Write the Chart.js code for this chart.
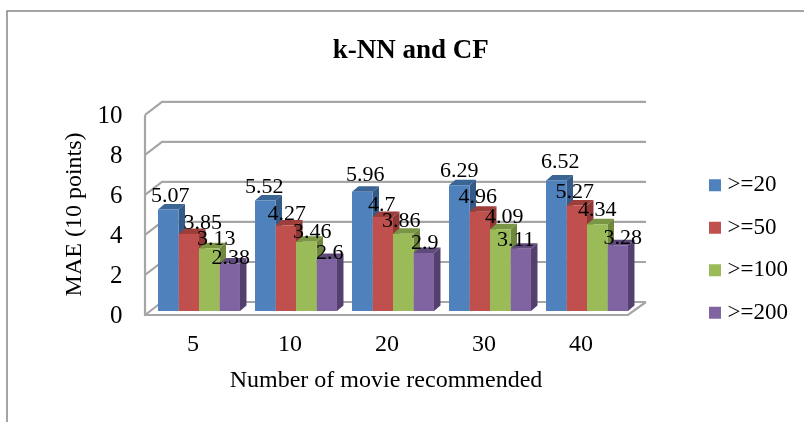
<!DOCTYPE html>
<html>
<head>
<meta charset="utf-8">
<title>k-NN and CF</title>
<script src="https://cdn.jsdelivr.net/npm/chart.js@4"></script>
<style>
  html, body { margin: 0; background: #fff; }
  canvas { display: block; }
</style>
</head>
<body>
<canvas id="grafico" width="804" height="422"></canvas>
<script>
const categorias = ['5', '10', '20', '30', '40'];
const nomesSeries = ['>=20', '>=50', '>=100', '>=200'];
const serie20 = [5.07, 5.52, 5.96, 6.29, 6.52];
const serie50 = [3.85, 4.27, 4.7, 4.96, 5.27];
const serie100 = [3.13, 3.46, 3.86, 4.09, 4.34];
const serie200 = [2.38, 2.6, 2.9, 3.11, 3.28];

const coresFrente = ['#4F81BD', '#C0504D', '#9BBB59', '#8064A2'];
const coresTopo = ['#3A6595', '#9E3E3B', '#7A9644', '#5F4A7C'];
const coresLado = ['#345A87', '#8F3835', '#6F883D', '#54406E'];
const fonte = '"Liberation Serif", serif';
const corGrade = '#A6A6A6';

// profundidade do efeito 3D
const fundoX = 6.5, fundoY = 5.5;

function poligono(ctx, cor, pontos) {
    ctx.fillStyle = cor;
    ctx.beginPath();
    pontos.forEach((p, i) => i ? ctx.lineTo(p[0], p[1]) : ctx.moveTo(p[0], p[1]));
    ctx.closePath();
    ctx.fill();
}

// desloca o titulo de um eixo sem mexer na escala
function deslocarTitulo(chart, escala, dx, dy) {
    const original = escala.drawTitle;
    escala.drawTitle = function () {
        chart.ctx.save();
        chart.ctx.translate(dx, dy);
        original.call(this);
        chart.ctx.restore();
    };
}

// 1. Paredes e chao, desenhados a partir das escalas
const paredes = {
    id: 'paredes',
    beforeDatasetsDraw(chart) {
        const ctx = chart.ctx;
        const y = chart.scales.y;
        const esq = chart.chartArea.left - 5.5, dir = chart.chartArea.right + 10.5;
        ctx.save();
        // moldura externa
        ctx.strokeStyle = '#868686';
        ctx.lineWidth = 1.5;
        ctx.beginPath();
        ctx.moveTo(7, 422);
        ctx.lineTo(7, 11);
        ctx.lineTo(804, 11);
        ctx.stroke();

        ctx.strokeStyle = corGrade;
        ctx.lineWidth = 2.2;
        y.ticks.forEach(t => {
            const py = y.getPixelForValue(t.value);
            ctx.beginPath();
            ctx.moveTo(esq, py + 4);
            ctx.lineTo(esq + 17, py - 9);
            ctx.lineTo(dir, py - 9);
            ctx.stroke();
        });
        const base = y.getPixelForValue(0);
        ctx.beginPath();
        ctx.moveTo(esq, y.getPixelForValue(10) + 4);
        ctx.lineTo(esq, base + 4);
        ctx.lineTo(dir - 18, base + 4);
        ctx.lineTo(dir, base - 9);
        ctx.stroke();
        ctx.restore();

        // faces de topo e lado das barras
        chart.data.datasets.forEach((ds, i) => {
            chart.getDatasetMeta(i).data.forEach(barra => {
                const d = barra.getProps(['x', 'y', 'base', 'width']);
                const e = d.x - d.width / 2, r = d.x + d.width / 2;
                poligono(ctx, coresLado[i], [[r, d.y], [r + fundoX, d.y - fundoY], [r + fundoX, d.base - fundoY], [r, d.base]]);
                poligono(ctx, coresTopo[i], [[e, d.y], [e + fundoX, d.y - fundoY], [r + fundoX, d.y - fundoY], [r, d.y]]);
            });
        });
    }
};

// 2. Rotulos de valor; no original cada um foi arrastado a mao
const rotulos = {
    id: 'rotulos',
    afterDatasetsDraw(chart) {
        const ctx = chart.ctx;
        const dx = [[2, -1, 3, 0, 4], [14, 1, -1, -2, -2], [7, 6, -2, 4, 0], [1, 3, 1, -5, 5]];
        const dy = [[-15, -15, -18, -15, -20], [-12, -13, -13, -16, -15], [-11, -11, -14, -13, -15], [-7, -7, -11, -10, -9]];
        ctx.save();
        ctx.font = '22px ' + fonte;
        ctx.fillStyle = '#000';
        ctx.textAlign = 'center';
        ctx.textBaseline = 'middle';
        chart.data.datasets.forEach((ds, i) => {
            chart.getDatasetMeta(i).data.forEach((barra, j) => {
                const d = barra.getProps(['x', 'y']);
                ctx.fillText(String(ds.data[j]), d.x + dx[i][j], d.y + dy[i][j] + 1.5);
            });
        });
        ctx.restore();
    }
};

// 3. Legenda e titulos fora da posicao padrao
const ajustarLayout = {
    id: 'ajustarLayout',
    afterLayout(chart) {
        const l = chart.legend;
        const novoX = 714 - l.options.labels.padding;
        l.right += novoX - l.left;
        l.left = novoX;
        l.top += 149;
        l.bottom += 149;
        chart.titleBlock.left += 63;
        chart.titleBlock.right += 63;
        if (!chart.scales.x.tituloMovido) {
            deslocarTitulo(chart, chart.scales.x, -7, 0);
            deslocarTitulo(chart, chart.scales.y, 0, 3.5);
            chart.scales.x.tituloMovido = true;
        }
    }
};

new Chart(document.getElementById('grafico'), {
    type: 'bar',
    data: {
        labels: categorias,
        datasets: [
            { label: nomesSeries[0], data: serie20, backgroundColor: coresFrente[0] },
            { label: nomesSeries[1], data: serie50, backgroundColor: coresFrente[1] },
            { label: nomesSeries[2], data: serie100, backgroundColor: coresFrente[2] },
            { label: nomesSeries[3], data: serie200, backgroundColor: coresFrente[3] }
        ]
    },
    plugins: [paredes, rotulos, ajustarLayout],
    options: {
        responsive: false,
        animation: false,
        layout: { padding: { left: 60, right: 168.5, bottom: 27 } },
        datasets: { bar: { categoryPercentage: 0.845, barPercentage: 1 } },
        plugins: {
            tooltip: { enabled: false },
            title: {
                display: true,
                text: 'k-NN and CF',
                color: '#000',
                font: { family: fonte, size: 27, weight: 'bold' },
                padding: { top: 34.5, bottom: 44 }
            },
            legend: {
                position: 'chartArea',
                onClick: null,
                labels: {
                    color: '#000',
                    font: { family: fonte, size: 23 },
                    // caixa minima com borda grossa: quadrado de 12px mais perto do texto
                    boxWidth: 2,
                    boxHeight: 2,
                    padding: 19.5,
                    generateLabels: chart => Chart.defaults.plugins.legend.labels.generateLabels(chart)
                        .map(item => ({ ...item, lineWidth: 10, strokeStyle: item.fillStyle }))
                }
            }
        },
        scales: {
            x: {
                grid: { display: false },
                border: { display: false },
                ticks: { color: '#000', font: { family: fonte, size: 24 }, padding: 11, labelOffset: -6, maxRotation: 0 },
                title: { display: true, text: 'Number of movie recommended', color: '#000', font: { family: fonte, size: 24 }, padding: 0 },
                afterFit: s => { s.height = 84; }
            },
            y: {
                min: 0,
                max: 10,
                grid: { display: false },
                border: { display: false },
                ticks: { stepSize: 2, color: '#000', font: { family: fonte, size: 25 }, padding: 20, labelOffset: 5.5 },
                title: { display: true, text: 'MAE (10 points)', color: '#000', font: { family: fonte, size: 24 }, padding: 0 },
                afterFit: s => { s.width = 90.5; }
            }
        }
    }
});
</script>
</body>
</html>
